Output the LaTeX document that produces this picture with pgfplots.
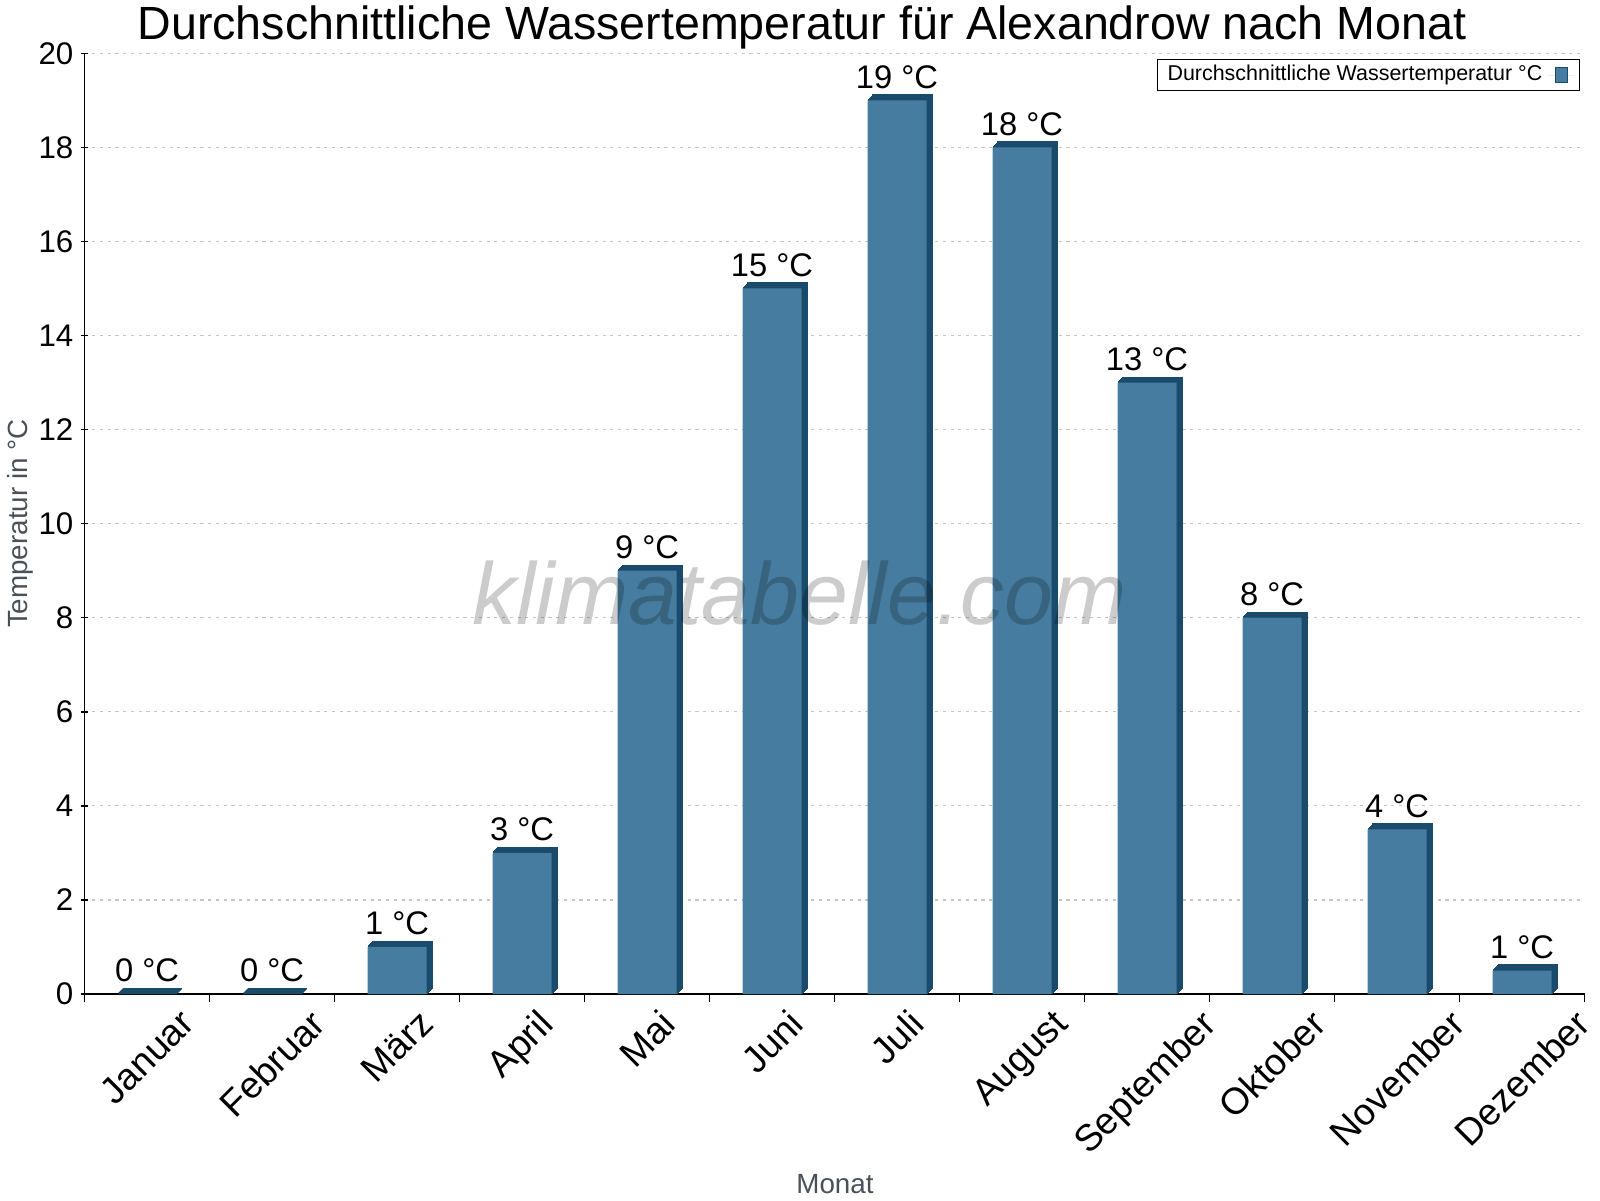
\documentclass[border=0pt]{standalone}
\usepackage{fontspec}
\setmainfont{Liberation Sans}
\usepackage{graphicx}
\usepackage{pgfplots}
\pgfplotsset{compat=1.18}

\definecolor{barfront}{HTML}{467C9F}
\definecolor{barside}{HTML}{1A4A6C}
\definecolor{labgray}{HTML}{4A5058}
\definecolor{gridgray}{HTML}{C4C4C4}

\begin{document}
\begin{tikzpicture}
% 1 px of the reference = 0.01 cm
\useasboundingbox (-0.845,-2.06) rectangle (15.155,9.94);
\begin{axis}[
    at={(0,0)}, anchor=south west,
    scale only axis,
    width=15cm, height=9.407cm,
    xmin=-0.5, xmax=11.5,
    ymin=0, ymax=20,
    axis x line*=bottom,
    axis y line*=left,
    axis line style={-, line width=0.4pt},
    ytick={0,2,...,20},
    xtick={0,...,11},
    xticklabels={\rotatebox{45}{Januar},\rotatebox{45}{Februar},\rotatebox{45}{März},
        \rotatebox{45}{April},\rotatebox{45}{Mai},\rotatebox{45}{Juni},\rotatebox{45}{Juli},
        \rotatebox{45}{August},\rotatebox{45}{September},\rotatebox{45}{Oktober},
        \rotatebox{45}{November},\rotatebox{45}{Dezember}},
    minor xtick={-0.5,0.5,...,11.5},
    major x tick style={draw=none},
    minor x tick style={line width=0.4pt, black},
    minor tick length=0.08cm,
    major tick length=0.07cm,
    y tick style={line width=0.4pt, black},
    ytick align=center,
    xtick align=outside,
    /pgf/number format/assume math mode=true,
    yticklabel style={font=\fontsize{8.9}{10}\selectfont, anchor=east, inner sep=0pt, xshift=-0.07cm},
    xticklabel style={font=\fontsize{10.6}{12}\selectfont, anchor=north, inner sep=0pt, yshift=-0.06cm},
    ymajorgrids,
    major grid style={gridgray, line width=0.35pt, dash pattern=on 0.9pt off 1.3pt},
    title={Durchschnittliche Wassertemperatur für Alexandrow nach Monat},
    every axis title shift=0pt,
    title style={at={(0.4783,1)}, anchor=base, yshift=0.143cm, font=\fontsize{13.25}{15}\selectfont},
    ylabel={Temperatur in °C},
    ylabel style={at={(axis description cs:-0.043,0.5)}, anchor=center,
        font=\fontsize{7.9}{9}\selectfont, text=labgray},
    xlabel={Monat},
    xlabel style={at={(axis description cs:0.5003,0)}, anchor=base, yshift=-1.99cm,
        font=\fontsize{7.9}{9}\selectfont, text=labgray},
    legend style={at={(0.997,0.994)}, anchor=north east, draw=black, line width=0.4pt,
        font=\fontsize{6.1}{7}\selectfont, inner xsep=0.05cm, inner ysep=0.02cm,
        nodes={inner ysep=0.03cm, inner xsep=0.05cm},
        legend plot pos=right},
    legend image code/.code={
        \path (0cm,0cm) -- (0.08cm,0cm);
        \draw[fill=barfront, draw=barside, line width=0.3pt] (0.08cm,-0.075cm) rectangle (0.2cm,0.075cm);
        \path (0.2cm,0cm) -- (0.27cm,0cm);},
]

% side and top faces of the bars: copies shifted by 1..6 px to the upper right
\pgfplotsinvokeforeach{0.01,0.02,0.03,0.04,0.05,0.055}{
\addplot[ybar, bar width=0.59cm, bar shift=#1cm, yshift=#1cm,
    fill=barside, draw=barside, line width=0.3pt, forget plot]
    coordinates {
    (0,0) (1,0) (2,1) (3,3) (4,9) (5,15)
    (6,19) (7,18) (8,13) (9,8) (10,3.5) (11,0.5)
    };
}

% front faces with the value labels
\addplot[ybar, bar width=0.59cm, bar shift=0cm, fill=barfront, draw=none,
    point meta=explicit symbolic,
    nodes near coords,
    nodes near coords style={font=\fontsize{9.3}{11}\selectfont, anchor=south,
        inner sep=0pt, yshift=0.11cm, text=black}]
    coordinates {
    (0,0) [0 °C]
    (1,0) [0 °C]
    (2,1) [1 °C]
    (3,3) [3 °C]
    (4,9) [9 °C]
    (5,15) [15 °C]
    (6,19) [19 °C]
    (7,18) [18 °C]
    (8,13) [13 °C]
    (9,8) [8 °C]
    (10,3.5) [4 °C]
    (11,0.5) [1 °C]
    };
\addlegendentry{Durchschnittliche Wassertemperatur °C}

% watermark
\node[font=\fontsize{25}{30}\itshape, text=black, opacity=0.2, anchor=base]
    at (rel axis cs:0.4767,0.3927) {klimatabelle.com};
\end{axis}
\end{tikzpicture}
\end{document}
